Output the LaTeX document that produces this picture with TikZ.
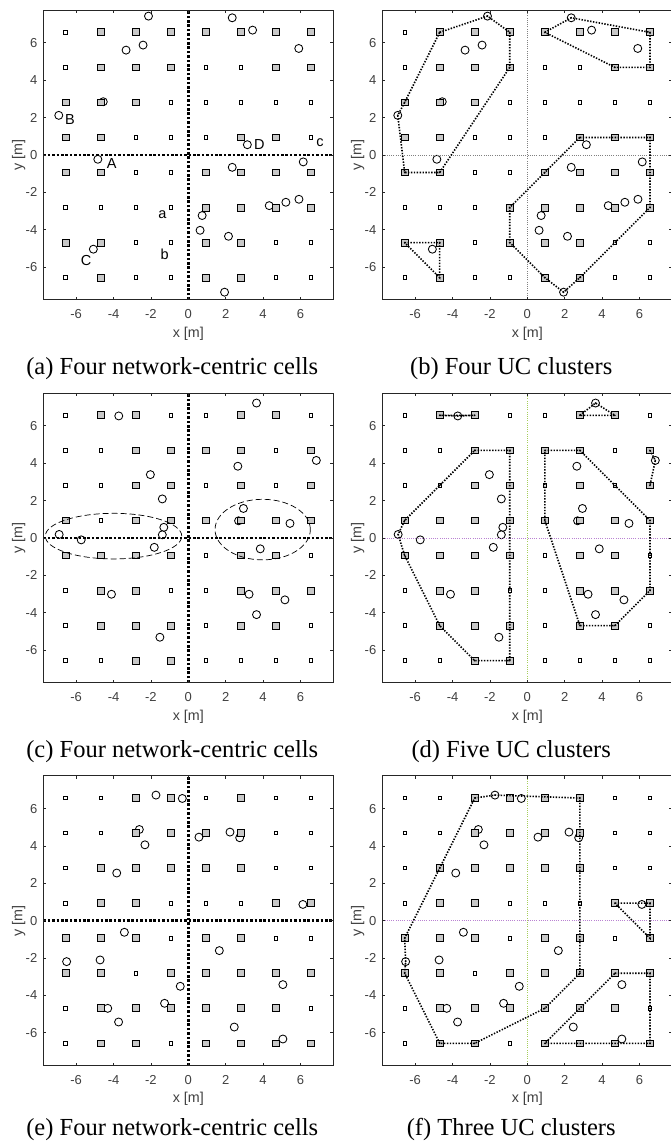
\documentclass[tikz,border=0pt]{standalone}
\usepackage{fontspec}
\setmainfont{Liberation Serif}
\setsansfont{Liberation Sans}

\definecolor{axgray}{RGB}{38,38,38}
\definecolor{tickgray}{RGB}{64,64,64}
\definecolor{apgray}{RGB}{200,200,200}
\definecolor{vgreen}{RGB}{165,205,90}
\definecolor{hpurple}{RGB}{185,130,210}

\tikzset{
  smallap/.style={draw=black, fill=white, rectangle, inner sep=0pt, minimum size=3.5pt, line width=0.8pt},
  bigap/.style={draw=black, fill=apgray, rectangle, inner sep=0pt, minimum size=6.8pt, line width=0.9pt},
  user/.style={draw=black, fill=white, circle, inner sep=0pt, minimum size=8pt, line width=0.85pt},
  cluster/.style={line width=1.6pt, dash pattern=on 1.4pt off 1.5pt},
  netcross/.style={line width=2.6pt, dash pattern=on 2.6pt off 1.8pt},
  thincross/.style={line width=0.6pt, dash pattern=on 0.6pt off 1.6pt},
  ringdash/.style={line width=0.7pt, dash pattern=on 6pt off 3pt},
  ticklab/.style={font=\sffamily\fontsize{13}{13}\selectfont, text=tickgray, inner sep=0pt},
  axlab/.style={font=\sffamily\fontsize{14.3}{14.3}\selectfont, text=tickgray, inner sep=0pt},
  ptlab/.style={font=\sffamily\fontsize{14.5}{14.5}\selectfont, inner sep=0pt},
  caption/.style={font=\fontsize{24.5}{24.5}\selectfont, inner sep=0pt},
  panel/.style={x=18.69pt, y=18.69pt}
}

% box, ticks and axis texts of one panel (#1 = prefix)
\newcommand{\panelaxes}[1]{%
  \draw[axgray, line width=0.8pt] (-7.75,-7.75) rectangle (7.75,7.75);
  \foreach \tk in {-6,-4,...,6} {
    \draw[axgray, line width=0.7pt] (\tk,-7.75) -- ++(0,3pt) (\tk,7.75) -- ++(0,-3pt)
      (-7.75,\tk) -- ++(3pt,0) (7.75,\tk) -- ++(-3pt,0);
    \node[ticklab] (#1xt\tk) at (\tk,-8.5) {\tk};
    \node[ticklab, anchor=east, xshift=-6pt] (#1yt\tk) at (-7.75,\tk) {\tk};
  }
  \node[axlab] (#1xl) at (0,-9.55) {x [m]};
  \node[axlab, rotate=90] (#1yl) at (-9.07,0) {y [m]};
}

% 8x8 APs, rows from the top, 1 = serving AP
\newcommand{\apgrid}[2]{%
  \foreach \row [count=\j] in {#2} {
    \foreach \on [count=\i] in \row {
      \ifnum\on=1
        \node[bigap] (#1-\i-\j) at ({1.875*\i-8.4375},{8.4375-1.875*\j}) {};
      \else
        \node[smallap] (#1-\i-\j) at ({1.875*\i-8.4375},{8.4375-1.875*\j}) {};
      \fi
    }
  }
}

\newcommand{\placeusers}[2]{%
  \foreach \ux/\uy [count=\k] in {#2}
    \node[user] (#1u\k) at (\ux,\uy) {};
}

% dotted hull through named nodes
\newcommand{\ucluster}[3][-- cycle]{%
  \draw[cluster] (#2.center) \foreach \p in {#3} { -- (\p.center) } #1;
  \foreach \p in {#2,#3} \fill (\p.center) circle (0.9pt);
}

\begin{document}
\begin{tikzpicture}[x=1pt, y=1pt]
  \useasboundingbox (0,0) rectangle (670,1142);

  % (a)
  \begin{scope}[shift={(188.3pt,987pt)}, panel]
    \placeusers{a}{-2.13/7.43,2.35/7.34,3.44/6.68,-3.33/5.61,-2.42/5.88,5.91/5.70,-4.55/2.85,-6.93/2.12,3.16/0.55,-4.84/-0.23,6.15/-0.37,2.35/-0.66,0.74/-3.24,0.63/-4.03,2.15/-4.35,4.33/-2.71,5.22/-2.53,5.92/-2.37,-5.08/-5.04,1.94/-7.34}
    \apgrid{a}{{0,1,1,1,1,1,1,1},{0,1,1,1,0,0,1,1},{1,1,1,0,0,0,0,0},{1,1,0,0,0,1,1,0},{1,1,0,0,1,1,1,1},{0,0,0,0,1,1,1,1},{1,1,0,0,1,1,0,0},{0,1,0,0,1,1,0,0}}
    \draw[netcross] (-7.75,0) -- (7.75,0) (0,-7.75) -- (0,7.75);
    \panelaxes{a}
    \node[ptlab] (lab-B) at (-6.33,1.91) {B};
    \node[ptlab] (lab-A) at (-4.10,-0.48) {A};
    \node[ptlab] (lab-C) at (-5.47,-5.65) {C};
    \node[ptlab] (lab-D) at (3.80,0.57) {D};
    \node[ptlab] (lab-c) at (7.04,0.66) {c};
    \node[ptlab] (lab-a) at (-1.39,-3.17) {a};
    \node[ptlab] (lab-b) at (-1.27,-5.29) {b};
    \node[caption] (cap-a) at (-0.86,-11.45) {(a) Four network-centric cells};
  \end{scope}

  % (b)
  \begin{scope}[shift={(527.3pt,987pt)}, panel]
    \placeusers{b}{-2.13/7.43,2.35/7.34,3.44/6.68,-3.33/5.61,-2.42/5.88,5.91/5.70,-4.55/2.85,-6.93/2.12,3.16/0.55,-4.84/-0.23,6.15/-0.37,2.35/-0.66,0.74/-3.24,0.63/-4.03,2.15/-4.35,4.33/-2.71,5.22/-2.53,5.92/-2.37,-5.08/-5.04,1.94/-7.34}
    \apgrid{b}{{0,1,1,1,1,1,1,1},{0,1,1,1,0,0,1,1},{1,1,1,0,0,0,0,0},{1,1,0,0,0,1,1,1},{1,1,0,0,1,1,1,1},{0,0,0,1,1,1,1,1},{1,1,0,1,1,1,0,0},{0,1,0,0,1,1,0,0}}
    \draw[thincross, gray] (-7.75,0) -- (7.75,0) (0,-7.75) -- (0,7.75);
    \ucluster{b-2-1}{bu1,b-4-1,b-4-2,b-2-5,b-1-5,bu8,b-1-3}
    \ucluster{b-5-1}{bu2,b-8-1,b-8-2,b-7-2}
    \ucluster{b-1-7}{b-2-7,b-2-8}
    \ucluster{b-6-4}{b-8-4,b-8-6,b-6-8,bu20,b-5-8,b-4-7,b-4-6,b-5-5}
    \panelaxes{b}
    \node[caption] (cap-b) at (-0.86,-11.45) {(b) Four UC clusters};
  \end{scope}

  % (c)
  \begin{scope}[shift={(188.3pt,604pt)}, panel]
    \placeusers{c}{-3.72/6.53,3.65/7.22,6.85/4.15,2.65/3.84,-2.03/3.39,-1.39/2.09,2.95/1.58,2.69/0.92,-1.31/0.57,-1.39/0.17,5.44/0.78,-1.82/-0.50,-6.91/0.19,-5.73/-0.10,3.85/-0.58,-4.11/-3.01,3.25/-3.01,5.17/-3.31,3.65/-4.10,-1.52/-5.31}
    \apgrid{c}{{0,1,1,0,0,1,1,0},{0,0,1,1,1,1,0,1},{0,0,1,1,0,1,0,1},{1,0,1,1,1,1,1,1},{1,1,1,1,0,1,1,0},{0,1,1,0,0,1,1,1},{0,1,1,1,0,1,1,0},{0,0,1,1,0,0,0,0}}
    \draw[ringdash] (-4.0,0.1) ellipse (3.65 and 1.22);
    \draw[ringdash] (3.98,0.45) ellipse (2.55 and 1.62);
    \draw[netcross] (-7.75,0) -- (7.75,0) (0,-7.75) -- (0,7.75);
    \panelaxes{c}
    \node[caption] (cap-c) at (-0.86,-11.45) {(c) Four network-centric cells};
  \end{scope}

  % (d)
  \begin{scope}[shift={(527.3pt,604pt)}, panel]
    \placeusers{d}{-3.72/6.53,3.65/7.22,6.85/4.15,2.65/3.84,-2.03/3.39,-1.39/2.09,2.95/1.58,2.69/0.92,-1.31/0.57,-1.39/0.17,5.44/0.78,-1.82/-0.50,-6.91/0.19,-5.73/-0.10,3.85/-0.58,-4.11/-3.01,3.25/-3.01,5.17/-3.31,3.65/-4.10,-1.52/-5.31}
    \apgrid{d}{{0,1,1,0,0,1,1,0},{0,0,1,1,1,1,0,1},{0,0,1,1,0,1,0,1},{1,1,1,1,1,1,1,1},{1,1,1,1,0,1,1,0},{0,1,1,0,0,1,1,1},{0,1,1,1,0,1,1,0},{0,0,1,1,0,0,0,0}}
    \draw[thincross, hpurple] (-7.75,0) -- (7.75,0);
    \draw[thincross, vgreen] (0,-7.75) -- (0,7.75);
    \ucluster{d-2-1}{du1,d-3-1}
    \ucluster{d-6-1}{du2,d-7-1}
    \ucluster[]{d-8-2}{du3,d-8-3}
    \ucluster{d-3-2}{d-4-2,d-4-8,d-3-8,d-2-7,d-1-5,du13,d-1-4,d-2-3}
    \ucluster{d-5-2}{d-6-2,d-8-4,d-8-6,d-7-7,d-6-7,d-5-4}
    \panelaxes{d}
    \node[caption] (cap-d) at (-0.86,-11.45) {(d) Five UC clusters};
  \end{scope}

  % (e)
  \begin{scope}[shift={(188.3pt,221.3pt)}, panel]
    \placeusers{e}{-1.73/6.72,-0.32/6.54,-2.62/4.88,0.57/4.47,2.23/4.74,2.75/4.44,-2.32/4.06,-3.83/2.55,6.13/0.87,-3.42/-0.62,1.66/-1.60,-6.51/-2.19,-4.72/-2.10,-0.43/-3.51,5.06/-3.42,-1.27/-4.42,-4.31/-4.69,-3.73/-5.42,2.46/-5.69,5.06/-6.33}
    \apgrid{e}{{0,0,1,1,0,1,0,0},{0,0,1,1,1,1,0,0},{0,1,1,1,1,1,0,0},{0,1,1,0,0,0,1,1},{1,1,1,0,1,1,0,0},{1,1,0,1,1,1,1,1},{0,1,1,1,1,1,1,0},{0,1,1,0,1,1,1,1}}
    \draw[netcross] (-7.75,0) -- (7.75,0) (0,-7.75) -- (0,7.75);
    \panelaxes{e}
    \node[caption] (cap-e) at (-0.86,-11.16) {(e) Four network-centric cells};
  \end{scope}

  % (f)
  \begin{scope}[shift={(527.3pt,221.3pt)}, panel]
    \placeusers{f}{-1.73/6.72,-0.32/6.54,-2.62/4.88,0.57/4.47,2.23/4.74,2.75/4.44,-2.32/4.06,-3.83/2.55,6.13/0.87,-3.42/-0.62,1.66/-1.60,-6.51/-2.19,-4.72/-2.10,-0.43/-3.51,5.06/-3.42,-1.27/-4.42,-4.31/-4.69,-3.73/-5.42,2.46/-5.69,5.06/-6.33}
    \apgrid{f}{{0,0,1,1,1,1,0,0},{0,0,1,1,1,1,0,0},{0,1,1,1,1,1,0,0},{0,1,1,0,0,0,1,1},{1,1,1,0,1,1,0,1},{1,1,0,1,1,1,1,1},{0,1,1,1,1,1,1,0},{0,1,1,0,1,1,1,1}}
    \draw[thincross, hpurple] (-7.75,0) -- (7.75,0);
    \draw[thincross, vgreen] (0,-7.75) -- (0,7.75);
    \ucluster{f-3-1}{fu1,f-6-1,f-6-6,f-5-7,f-3-8,f-2-8,f-1-6,fu12,f-1-5,f-2-3}
    \ucluster{f-7-4}{f-8-4,f-8-5}
    \ucluster{f-7-6}{f-8-6,f-8-8,f-5-8}
    \panelaxes{f}
    \node[caption] (cap-f) at (-0.86,-11.16) {(f) Three UC clusters};
  \end{scope}
\end{tikzpicture}
\end{document}
